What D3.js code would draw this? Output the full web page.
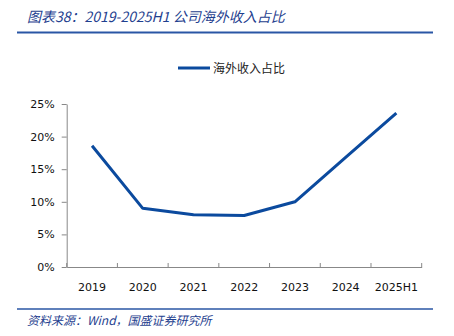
<!DOCTYPE html>
<html><head><meta charset="utf-8">
<script src="https://cdn.jsdelivr.net/npm/d3@7"></script>
<style>body{margin:0;background:#fff}svg{display:block}</style>
</head><body><div id="c"></div>
<script>
const categories = ["2019","2020","2021","2022","2023","2024","2025H1"];
const overseasShare = [18.6, 9.0, 8.0, 7.9, 10.0, 16.8, 23.6];
const yTicks = [0,5,10,15,20,25];
const seriesName = "海外收入占比";
const titleText = "图表38：2019-2025H1 公司海外收入占比";
const sourceText = "资料来源：Wind，国盛证券研究所";

const W=454,H=336;
const svg=d3.select("#c").append("svg").attr("width",W).attr("height",H);
const m={l:66.7,r:32.3,t:104,b:69};
const x=d3.scaleBand().domain(categories).range([m.l,W-m.r]);
const y=d3.scaleLinear().domain([0,25]).range([H-m.b,m.t]);

// title
svg.append("text").attr("x",27).attr("y",22).attr("fill","#1f3f8f")
  .style("font-family","'Noto Sans CJK SC', 'DejaVu Sans'").style("font-style","italic")
  .style("font-size","14px").text(titleText);
svg.append("line").attr("x1",17).attr("x2",433).attr("y1",32.5).attr("y2",32.5)
  .attr("stroke","#2a56a5").attr("stroke-width",2);
// footer
svg.append("line").attr("x1",17).attr("x2",433).attr("y1",309).attr("y2",309)
  .attr("stroke","#2a56a5").attr("stroke-width",1.5);
svg.append("text").attr("x",27).attr("y",325).attr("fill","#1f3f8f")
  .style("font-family","'Noto Sans CJK SC', 'DejaVu Sans'").style("font-style","italic")
  .style("font-size","12px").text(sourceText);

// legend
svg.append("line").attr("x1",178).attr("x2",210).attr("y1",68).attr("y2",68)
  .attr("stroke","#0b4a9e").attr("stroke-width",3);
svg.append("text").attr("x",213).attr("y",72.5).attr("fill","#222")
  .style("font-family","'Noto Sans CJK SC'").style("font-size","12px").text(seriesName);

// axes
const ya=svg.append("g").attr("transform",`translate(${m.l},0)`)
  .call(d3.axisLeft(y).tickValues(yTicks).tickFormat(d=>d+"%").tickSize(5).tickSizeOuter(0));
const xa=svg.append("g").attr("transform",`translate(0,${H-m.b})`)
  .call(d3.axisBottom(x).tickSize(0).tickSizeOuter(0));
[ya,xa].forEach(g=>{g.select(".domain").attr("stroke","#888");
  g.selectAll("text").attr("fill","#111").style("font-family","'DejaVu Sans'").style("font-size","11px");});
ya.selectAll(".tick line").attr("stroke","#888");
ya.selectAll("text").attr("dx","-4");
xa.selectAll("text").attr("dy","1.9em");
// x ticks at band boundaries
const bounds=categories.map(c=>x(c)+x.bandwidth());
xa.selectAll(".bt").data(bounds).enter().append("line")
  .attr("x1",d=>d).attr("x2",d=>d).attr("y1",0).attr("y2",-4).attr("stroke","#888");
xa.append("line").attr("x1",m.l).attr("x2",m.l).attr("y1",0).attr("y2",-4).attr("stroke","#888");

// line
const line=d3.line().x((d,i)=>x(categories[i])+x.bandwidth()/2).y(d=>y(d));
svg.append("path").datum(overseasShare).attr("d",line).attr("fill","none")
  .attr("stroke","#0b4a9e").attr("stroke-width",3).attr("stroke-linejoin","round");
</script></body></html>
